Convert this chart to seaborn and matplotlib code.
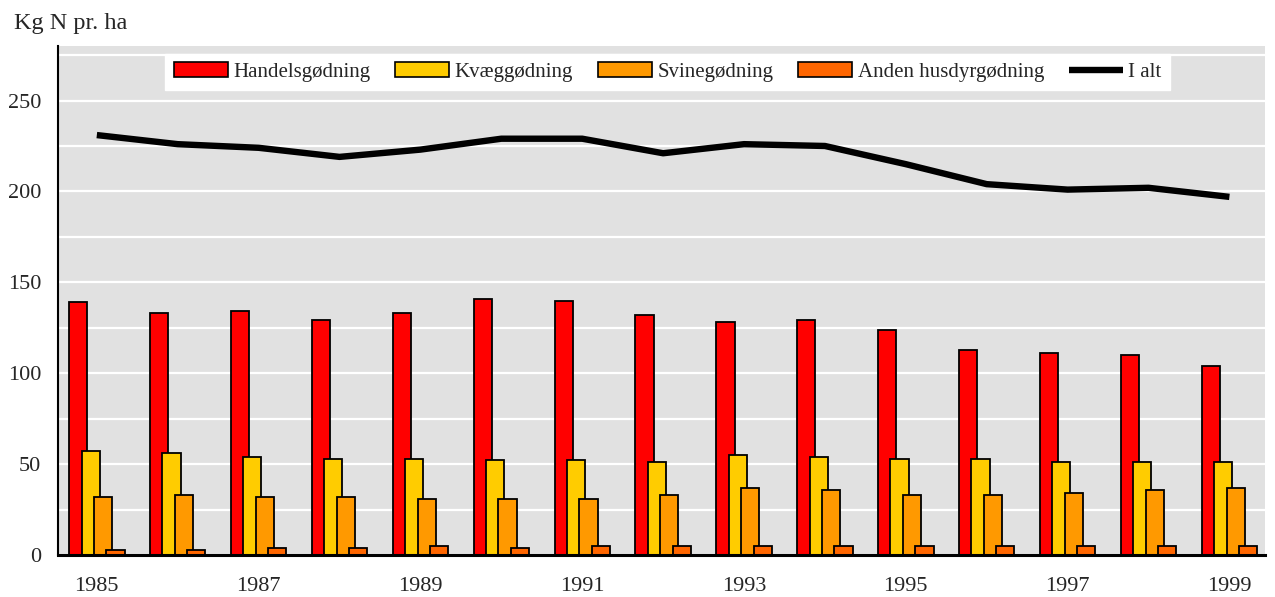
import matplotlib
matplotlib.use("Agg")
import matplotlib.pyplot as plt
import seaborn as sns
from matplotlib.patches import Patch
from matplotlib.lines import Line2D

# kg N pr. ha
aar = [1985, 1986, 1987, 1988, 1989, 1990, 1991, 1992, 1993, 1994, 1995, 1996, 1997, 1998, 1999]
handel = [139, 133, 134, 129, 133, 141, 140, 132, 128, 129, 124, 113, 111, 110, 104]
kvaeg = [57, 56, 54, 53, 53, 52, 52, 51, 55, 54, 53, 53, 51, 51, 51]
svine = [32, 33, 32, 32, 31, 31, 31, 33, 37, 36, 33, 33, 34, 36, 37]
anden = [3, 3, 4, 4, 5, 4, 5, 5, 5, 5, 5, 5, 5, 5, 5]
i_alt = [231, 226, 224, 219, 223, 229, 229, 221, 226, 225, 215, 204, 201, 202, 197]

navne = ["Handelsgødning", "Kvæggødning", "Svinegødning", "Anden husdyrgødning"]
farver = ["#FF0000", "#FFCC00", "#FF9900", "#FF6600"]
serier = [handel, kvaeg, svine, anden]
forskyd = [-0.23, -0.077, 0.077, 0.23]

sns.set_style("white", {"axes.facecolor": "#E1E1E1"})
plt.rcParams['font.family'] = ['Liberation Serif', 'DejaVu Serif']

fig = plt.figure(figsize=(12.75, 5.97), dpi=100)
ax = fig.add_axes([58 / 1275, 42 / 597, 1207 / 1275, 509 / 597])

for i, (vaerdier, farve) in enumerate(zip(serier, farver)):
    x = [a + forskyd[i] for a in aar]
    sns.barplot(x=x, y=vaerdier, ax=ax, native_scale=True, width=0.225,
                color=farve, saturation=1, edgecolor="black", linewidth=1.3,
                errorbar=None, zorder=2 + i)

sns.lineplot(x=aar, y=i_alt, ax=ax, color="black", linewidth=4.6,
             solid_capstyle="butt", zorder=10)

ax.set_xlim(1984.52, 1999.44)
ax.set_ylim(0, 280)
ax.set_xticks(aar[::2])
ax.set_xticklabels([str(a) for a in aar[::2]])
ax.set_yticks(range(0, 251, 50))
ax.set_yticks(range(25, 276, 50), minor=True)
ax.grid(True, axis="y", which="both", color="white", linewidth=1.6, zorder=0)
ax.set_axisbelow(True)
ax.tick_params(axis="both", which="both", length=0, labelsize=16)
ax.tick_params(axis="x", pad=16)
ax.tick_params(axis="y", pad=12)
ax.set_xlabel("")
ax.set_ylabel("")

for side in ["top", "right"]:
    ax.spines[side].set_visible(False)
ax.spines["left"].set_color("black")
ax.spines["left"].set_linewidth(1.5)
ax.spines["bottom"].set_color("black")
ax.spines["bottom"].set_linewidth(2.2)
ax.spines["bottom"].set_zorder(20)

handles = [Patch(facecolor=f, edgecolor="black", linewidth=1.2) for f in farver]
handles.append(Line2D([0], [0], color="black", linewidth=4.6, solid_capstyle="butt"))
leg = ax.legend(handles, navne + ["I alt"], loc="upper center",
                bbox_to_anchor=(0.505, 0.984), ncol=5, fontsize=15,
                frameon=True, fancybox=False, framealpha=1, edgecolor="white",
                handlelength=2.6, handleheight=0.67, handletextpad=0.25,
                columnspacing=1.2, borderpad=0.4, borderaxespad=0)
leg.get_frame().set_facecolor("white")
leg.set_zorder(30)

fig.text(14 / 1275, 1 - 29 / 597, "Kg N pr. ha", fontsize=17.5, va="baseline", ha="left")

plt.savefig("out.png", dpi=100)
